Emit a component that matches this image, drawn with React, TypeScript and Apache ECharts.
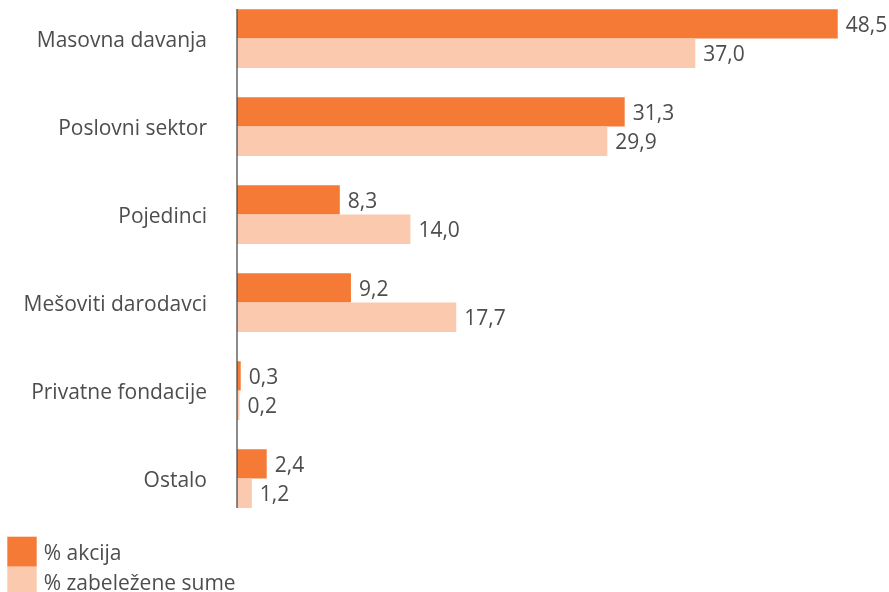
import React, { useEffect, useRef } from "react";
import * as echarts from "echarts";

const categories = [
  "Masovna davanja",
  "Poslovni sektor",
  "Pojedinci",
  "Mešoviti darodavci",
  "Privatne fondacije",
  "Ostalo",
];
const seriesNames = ["% akcija", "% zabeležene sume"];
const akcija = [48.5, 31.3, 8.3, 9.2, 0.3, 2.4];
const sume = [37.0, 29.9, 14.0, 17.7, 0.2, 1.2];

const DARK = "#f47a35";
const LIGHT = "#fbcaae";
const TEXT = "#4d4d4d";
const FONT = "'Open Sans', 'Noto Sans', sans-serif";
const OFF = 20; // chart div is shifted up by this amount

export default function App() {
  const ref = useRef<HTMLDivElement>(null);
  useEffect(() => {
    if (!ref.current) return;
    const chart = echarts.init(ref.current, null, { renderer: "svg" });
    const label = {
      show: true,
      position: "right",
      distance: 8,
      color: TEXT,
      fontSize: 21,
      fontFamily: FONT,
      formatter: (p: any) => Number(p.value).toFixed(1).replace(".", ","),
    };
    chart.setOption({
      animation: false,
      textStyle: { fontFamily: FONT },
      grid: {
        left: 237,
        right: 32.7,
        top: OFF - 5.4,
        height: 528,
        containLabel: false,
      },
      xAxis: {
        type: "value",
        min: 0,
        max: 50,
        show: false,
      },
      yAxis: {
        type: "category",
        data: categories,
        inverse: true,
        axisLine: { show: false },
        axisTick: { show: false },
        axisLabel: { color: TEXT, fontSize: 21, fontFamily: FONT, margin: 30 },
      },
      legend: {
        orient: "vertical",
        left: 2.3,
        top: OFF + 531.7,
        height: 80,
        itemWidth: 29.4,
        itemHeight: 30,
        itemGap: 0,
        icon: "rect",
        textStyle: { color: TEXT, fontSize: 21, fontFamily: FONT, padding: [0, 0, 0, 2] },
        data: seriesNames,
      },
      series: [
        {
          name: seriesNames[0],
          type: "bar",
          data: akcija,
          itemStyle: { color: DARK },
          barGap: "0%",
          barCategoryGap: "33.3%",
          label,
        },
        {
          name: seriesNames[1],
          type: "bar",
          data: sume,
          itemStyle: { color: LIGHT },
          barGap: "0%",
          barCategoryGap: "33.3%",
          label,
        },
      ],
      graphic: [
        {
          type: "line",
          shape: { x1: 237, y1: OFF + 9, x2: 237, y2: OFF + 508 },
          style: { stroke: "#4d4d4d", lineWidth: 1.3 },
          z: 100,
        },
      ],
    });
    return () => chart.dispose();
  }, []);
  return (
    <div
      ref={ref}
      style={{ position: "fixed", left: 0, top: -OFF, width: 889, height: 592 + OFF }}
    />
  );
}
